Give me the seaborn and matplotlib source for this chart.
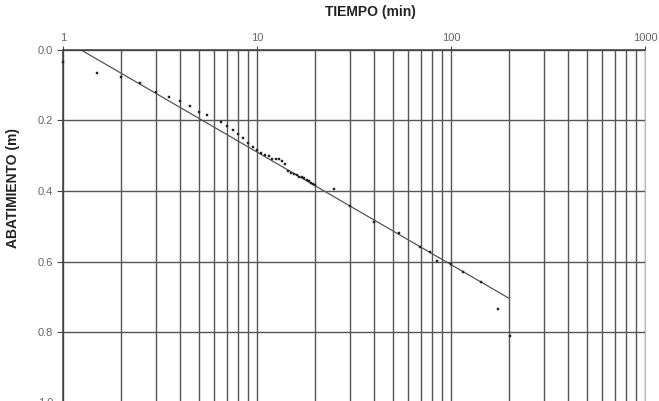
import numpy as np
import pandas as pd
import matplotlib
matplotlib.use('Agg')
import matplotlib.pyplot as plt
import seaborn as sns
from matplotlib.ticker import LogLocator, FixedLocator, NullFormatter

# Pumping test readings: time (min) and drawdown (m)
tiempo = [1.0, 1.5, 2.0, 2.5, 3.0, 3.5, 4.0, 4.5, 5.0, 5.5, 6.5, 7.0, 7.5, 8.0, 8.5, 9.0,
          9.5, 10.0, 10.5, 11.0, 11.5, 12.0, 12.5, 13.0, 13.5, 14.0, 14.5, 15.0, 15.5,
          16.0, 16.5, 17.0, 17.5, 18.0, 18.5, 19.0, 19.5, 20.0, 25.0, 30.0, 40.0, 54.0,
          69.0, 78.0, 85.0, 100.0, 115.0, 142.0, 175.0, 202.0]
abatimiento = [0.033, 0.064, 0.076, 0.095, 0.120, 0.132, 0.145, 0.159, 0.177, 0.184, 0.205,
               0.215, 0.228, 0.239, 0.250, 0.263, 0.276, 0.285, 0.292, 0.298, 0.302, 0.308,
               0.310, 0.309, 0.314, 0.322, 0.343, 0.350, 0.353, 0.356, 0.359, 0.361, 0.364,
               0.370, 0.373, 0.377, 0.380, 0.384, 0.395, 0.442, 0.488, 0.520, 0.558, 0.572,
               0.598, 0.607, 0.630, 0.657, 0.734, 0.810]

# Fitted straight line (Jacob) end points
recta_t = [1.24, 200.0]
recta_s = [0.0, 0.705]

x_ticks = [1, 10, 100, 1000]
x_ticklabels = ['1', '10', '100', '1000']
y_ticks = [0.0, 0.2, 0.4, 0.6, 0.8, 1.0]
y_ticklabels = ['0.0', '0.2', '0.4', '0.6', '0.8', '1.0']

datos = pd.DataFrame({'t': tiempo, 's': abatimiento})
recta = pd.DataFrame({'t': recta_t, 's': recta_s})

sns.set_style('white')
plt.rcParams['font.family'] = ['Liberation Sans', 'DejaVu Sans']

fig = plt.figure(figsize=(6.59, 4.01), dpi=100)
ax = fig.add_axes([63 / 659, 1 - 402.5 / 401, 582 / 659, 352.5 / 401])

# Grid first so the data sits on top
ax.set_xscale('log')
ax.set_xlim(1, 1000)
ax.set_ylim(1.0, 0.0)
ax.xaxis.set_major_locator(FixedLocator(x_ticks))
ax.xaxis.set_minor_locator(LogLocator(base=10, subs=np.arange(2, 10)))
ax.xaxis.set_minor_formatter(NullFormatter())
ax.set_xticks(x_ticks)
ax.set_xticklabels(x_ticklabels)
ax.set_yticks(y_ticks)
ax.set_yticklabels(y_ticklabels)
ax.grid(True, which='both', axis='x', color='#555555', linewidth=1.0)
ax.grid(True, which='major', axis='y', color='#555555', linewidth=1.0)
ax.set_axisbelow(True)

sns.lineplot(data=recta, x='t', y='s', ax=ax, color='#555555', linewidth=0.9)
sns.scatterplot(data=datos, x='t', y='s', ax=ax, marker='s', s=4.5, color='#222222',
                edgecolor='#222222', linewidth=0.3, zorder=4, clip_on=False)

ax.xaxis.tick_top()
ax.xaxis.set_label_position('top')
ax.tick_params(axis='x', which='major', top=True, bottom=False, length=3, pad=2,
               labelsize=8, labelcolor='#666666', color='#444444')
ax.tick_params(axis='x', which='minor', top=False, bottom=False)
ax.tick_params(axis='y', left=True, length=4, pad=3, labelsize=8,
               labelcolor='#666666', color='#444444')

ax.set_xlabel('TIEMPO (min)', fontsize=10, fontweight='bold', color='#222222')
ax.xaxis.set_label_coords((370 - 63) / 582, 1 + 34 / 352.5)
ax.set_ylabel('ABATIMIENTO (m)', fontsize=10, fontweight='bold', color='#222222')
ax.yaxis.set_label_coords(-43 / 582, (402.5 - 188) / 352.5)

for side in ['left', 'top']:
    ax.spines[side].set_color('#444444')
    ax.spines[side].set_linewidth(1.2)
ax.spines['right'].set_color('#bbbbbb')
ax.spines['bottom'].set_visible(False)

fig.savefig('out.png', dpi=100)
